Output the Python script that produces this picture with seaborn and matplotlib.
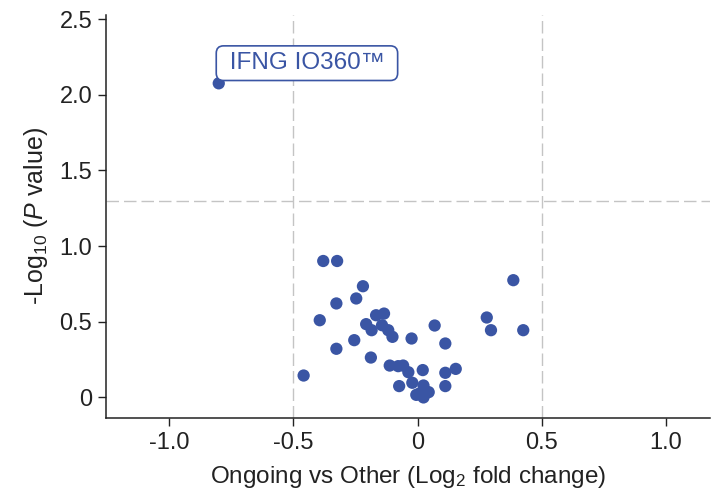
import numpy as np
import pandas as pd
import matplotlib
matplotlib.use("Agg")
import matplotlib.pyplot as plt
import seaborn as sns

sns.set_style("white")
plt.rcParams['font.family'] = ['Liberation Sans', 'DejaVu Sans']
plt.rcParams['mathtext.fontset'] = 'custom'
plt.rcParams['mathtext.rm'] = 'Liberation Sans'
plt.rcParams['mathtext.it'] = 'Liberation Sans:italic'
plt.rcParams['axes.unicode_minus'] = False

# log2 fold change (Ongoing vs Other) and -log10 p values
log2fc = [-0.801, -0.380, -0.324, -0.220, 0.386, -0.327, -0.247, -0.394, -0.167, -0.135,
          -0.207, -0.185, -0.143, -0.118, -0.101, -0.024, 0.069, 0.112, 0.279, 0.296,
          0.426, -0.255, -0.327, -0.188, -0.459, -0.112, -0.078, -0.058, -0.037, 0.021,
          0.112, 0.154, -0.074, -0.021, 0.024, 0.112, 0.045, -0.005, 0.024, 0.008]
neglog10p = [2.077, 0.901, 0.901, 0.734, 0.774, 0.620, 0.653, 0.509, 0.542, 0.553,
             0.483, 0.443, 0.476, 0.443, 0.399, 0.388, 0.474, 0.355, 0.527, 0.443,
             0.443, 0.377, 0.320, 0.262, 0.143, 0.209, 0.205, 0.209, 0.165, 0.179,
             0.161, 0.187, 0.073, 0.095, 0.077, 0.073, 0.033, 0.015, -0.002, 0.024]
highlight_label = "IFNG IO360™"

x_ticks = [-1.0, -0.5, 0, 0.5, 1.0]
y_ticks = [0, 0.5, 1.0, 1.5, 2.0, 2.5]

df = pd.DataFrame({"log2fc": log2fc, "p": neglog10p})
blue = "#3a55a4"
dark = "#222222"

fig = plt.figure(figsize=(7.12, 4.96), dpi=100)
ax = fig.add_axes([0.149, 0.157, 0.848, 0.813])

# thresholds
ax.axhline(-np.log10(0.05), color="#c4c4c4", lw=1, ls=(0, (9, 3.6)), zorder=1)
for xv in (-0.5, 0.5):
    ax.axvline(xv, color="#c4c4c4", lw=1, ls=(0, (9, 3.6)), zorder=1)

sns.scatterplot(data=df, x="log2fc", y="p", color=blue, s=78, edgecolor="none", ax=ax, zorder=3)

ax.annotate(" " + highlight_label + " ", xy=(log2fc[0], neglog10p[0]), xytext=(63.5, 14.5),
            textcoords="offset points", ha="center", va="center", fontsize=17.5, color=blue,
            bbox=dict(boxstyle="round,pad=0.26,rounding_size=0.3", fc="white", ec=blue, lw=1.2))

ax.set_xlim(-1.255, 1.178)
ax.set_ylim(-0.139, 2.53)
ax.set_xticks(x_ticks)
ax.set_yticks(y_ticks)
fmt = lambda v: "0" if v == 0 else f"{v:.1f}"
ax.set_xticklabels([fmt(v) for v in x_ticks], fontsize=17)
ax.set_yticklabels([fmt(v) for v in y_ticks], fontsize=17)
ax.tick_params(axis="both", direction="out", length=6, width=1, color=dark,
               bottom=True, left=True, pad=4, labelcolor=dark)

sns.despine(ax=ax)
for sp in ("left", "bottom"):
    ax.spines[sp].set_color(dark)
    ax.spines[sp].set_linewidth(1.1)

ax.set_xlabel("Ongoing vs Other (Log$_2$ fold change)", fontsize=17.5, color=dark, labelpad=7)
ax.set_ylabel("-Log$_{10}$ ($\\it{P}$ value)", fontsize=18, color=dark, labelpad=7)

fig.savefig("out.png", dpi=100)
